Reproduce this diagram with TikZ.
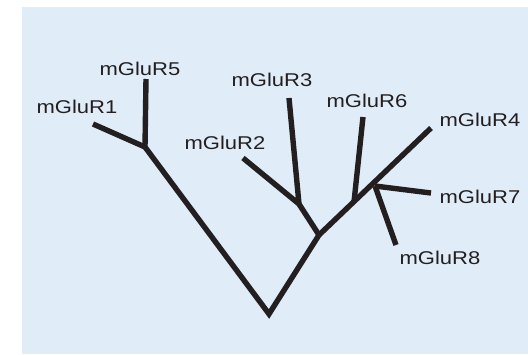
\documentclass[tikz,border=0pt]{standalone}
\usepackage{fontspec}
\setmainfont{Liberation Sans}[FakeStretch=1.19]
\definecolor{bgblue}{HTML}{E0ECF8}
\definecolor{ink}{HTML}{231F20}
\tikzset{
  branch/.style={draw=ink, line width=5.4pt, line join=miter},
  lbl/.style={text=ink, font=\fontsize{18.5}{20}\selectfont, anchor=base, inner sep=0pt}
}
\begin{document}
\begin{tikzpicture}[x=1pt,y=-1pt]
\useasboundingbox (0,0) rectangle (528,354);
\fill[bgblue] (22,7) rectangle (528,354);
% junctions and tips
\coordinate (root) at (269,314);
\coordinate (j15) at (145,147);
\coordinate (t1) at (93,124);
\coordinate (t5) at (146,79);
\coordinate (jr) at (319,235);
\coordinate (j23) at (299,204);
\coordinate (t2) at (243,158);
\coordinate (t3) at (289,98);
\coordinate (j6) at (354,202);
\coordinate (t6) at (363,117);
\coordinate (j478) at (375,186);
\coordinate (t4) at (431,128);
\coordinate (t7) at (431,193);
\coordinate (t8) at (396,245);
% branches
\draw[branch] (j15) -- (root) -- (jr);
\draw[branch] (t1) -- (j15);
\draw[branch] (t5) -- (j15);
\draw[branch] (jr) -- (j23);
\draw[branch] (t2) -- (j23) -- (t3);
\draw[branch] (jr) -- (t4);
\draw[branch] (j6) -- (t6);
\draw[branch] (j478) -- (t7);
\draw[branch] (j478) -- (t8);
% labels
\node[lbl] (l5) at (140,75) {mGluR5};
\node[lbl] (l1) at (77,113) {mGluR1};
\node[lbl] (l2) at (225,149) {mGluR2};
\node[lbl] (l3) at (272,86) {mGluR3};
\node[lbl] (l6) at (367,107) {mGluR6};
\node[lbl] (l4) at (480,126) {mGluR4};
\node[lbl] (l7) at (480,203) {mGluR7};
\node[lbl] (l8) at (440,264) {mGluR8};
\end{tikzpicture}
\end{document}
